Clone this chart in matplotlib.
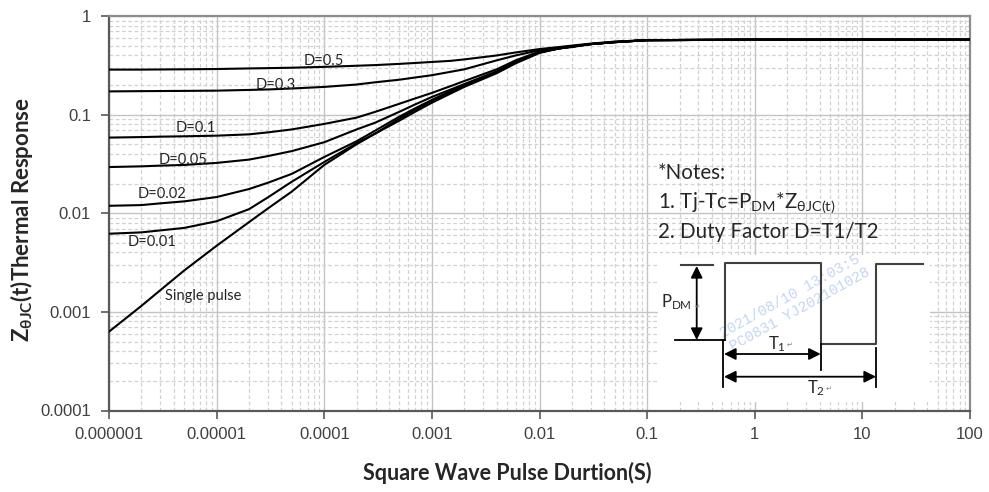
import matplotlib

matplotlib.use("Agg")
import matplotlib.pyplot as plt  # noqa: E402
from matplotlib.ticker import FixedLocator, LogLocator, NullFormatter  # noqa: E402
from matplotlib.patches import FancyArrowPatch  # noqa: E402

# ---- data (pulse width in s, Z normalised) ----
PULSE_S = [1e-6, 2e-6, 3e-6, 5e-6, 1e-5, 2e-5, 3e-5, 5e-5, 1e-4, 2e-4, 3e-4, 5e-4,
           7e-4, 1e-3, 1.5e-3, 2e-3, 4e-3, 6e-3, 1e-2, 1.5e-2, 2e-2, 3e-2, 5e-2,
           0.1, 1, 10, 100]

Z_D050 = [0.286, 0.286, 0.287, 0.288, 0.290, 0.294, 0.296, 0.299, 0.305, 0.313, 0.318, 0.327,
          0.334, 0.342, 0.351, 0.363, 0.398, 0.427, 0.462, 0.484, 0.501, 0.525, 0.550,
          0.569, 0.575, 0.575, 0.575]
Z_D030 = [0.172, 0.173, 0.1735, 0.174, 0.175, 0.178, 0.180, 0.184, 0.191, 0.202, 0.213, 0.226,
          0.238, 0.251, 0.272, 0.288, 0.355, 0.398, 0.450, 0.473, 0.495, 0.519, 0.547,
          0.569, 0.575, 0.575, 0.575]
Z_D010 = [0.0585, 0.0592, 0.0598, 0.0603, 0.0612, 0.0631, 0.0661, 0.0708, 0.0805, 0.0933, 0.107, 0.129,
          0.146, 0.166, 0.195, 0.219, 0.288, 0.355, 0.437, 0.468, 0.490, 0.519, 0.543,
          0.569, 0.575, 0.575, 0.575]
Z_D005 = [0.0294, 0.0299, 0.0304, 0.0309, 0.0324, 0.0350, 0.0380, 0.0427, 0.0525, 0.0708, 0.0832, 0.107,
          0.127, 0.151, 0.180, 0.204, 0.275, 0.343, 0.432, 0.468, 0.490, 0.519, 0.543,
          0.569, 0.575, 0.575, 0.575]
Z_D002 = [0.0119, 0.0121, 0.0126, 0.0132, 0.0146, 0.0176, 0.0204, 0.0251, 0.0372, 0.0537, 0.0692, 0.0955,
          0.116, 0.141, 0.174, 0.200, 0.272, 0.339, 0.429, 0.468, 0.490, 0.519, 0.543,
          0.569, 0.575, 0.575, 0.575]
Z_D001 = [0.0062, 0.0064, 0.0067, 0.0071, 0.0083, 0.0110, 0.0145, 0.0209, 0.0331, 0.0513, 0.0646, 0.0912,
          0.112, 0.138, 0.170, 0.195, 0.269, 0.339, 0.427, 0.468, 0.490, 0.519, 0.543,
          0.569, 0.575, 0.575, 0.575]
Z_SINGLE = [0.00063, 0.00115, 0.00166, 0.00263, 0.00468, 0.00813, 0.0112, 0.0166, 0.0309, 0.0501, 0.0646, 0.0871,
            0.107, 0.132, 0.164, 0.191, 0.263, 0.331, 0.422, 0.468, 0.484, 0.519, 0.543,
            0.569, 0.575, 0.575, 0.575]

CURVE_NAMES = ["D=0.5", "D=0.3", "D=0.1", "D=0.05", "D=0.02", "D=0.01", "Single pulse"]

X_TICKS = [1e-6, 1e-5, 1e-4, 1e-3, 1e-2, 0.1, 1, 10, 100]
X_TICK_LABELS = ["0.000001", "0.00001", "0.0001", "0.001", "0.01", "0.1", "1", "10", "100"]
Y_TICKS = [1e-4, 1e-3, 1e-2, 0.1, 1]
Y_TICK_LABELS = ["0.0001", "0.001", "0.01", "0.1", "1"]

# where each curve name sits (left edge, vertical centre), data coords
LABEL_POS = [(6.5e-5, 0.347), (2.32e-5, 0.201), (4.2e-6, 0.0738), (2.92e-6, 0.035),
             (1.86e-6, 0.0158), (1.50e-6, 0.00515), (3.31e-6, 0.00144)]

SANS = ["Lato", "DejaVu Sans"]
TICK_FONT = ["Liberation Sans", "DejaVu Sans"]
MONO = ["Liberation Mono", "DejaVu Sans Mono"]
INK = "#262626"
TICK_INK = "#404040"

plt.rcParams["mathtext.fontset"] = "custom"
plt.rcParams["mathtext.rm"] = "Lato"
plt.rcParams["mathtext.it"] = "Lato:italic"
plt.rcParams["mathtext.bf"] = "Lato:bold"

fig = plt.figure(figsize=(9.89, 4.92), dpi=100)
fig.patch.set_facecolor("white")
ax = fig.add_axes([109 / 989, 1 - 410.5 / 492, 861 / 989, 394.5 / 492])

series = [Z_D050, Z_D030, Z_D010, Z_D005, Z_D002, Z_D001, Z_SINGLE]
for z in series:
    ax.plot(PULSE_S, z, color="black", linewidth=1.5, solid_joinstyle="round", zorder=3)

ax.set_xscale("log")
ax.set_yscale("log")
ax.set_xlim(1e-6, 100)
ax.set_ylim(1e-4, 1)

ax.xaxis.set_major_locator(FixedLocator(X_TICKS))
ax.set_xticklabels(X_TICK_LABELS)
ax.yaxis.set_major_locator(FixedLocator(Y_TICKS))
ax.set_yticklabels(Y_TICK_LABELS)
ax.xaxis.set_minor_locator(LogLocator(base=10, subs=range(2, 10), numticks=20))
ax.yaxis.set_minor_locator(LogLocator(base=10, subs=range(2, 10), numticks=20))
ax.xaxis.set_minor_formatter(NullFormatter())
ax.yaxis.set_minor_formatter(NullFormatter())

ax.grid(which="major", color="#c4c4c4", linewidth=1.0, linestyle="-", zorder=0)
ax.grid(which="minor", color="#d2d2d2", linewidth=0.9, linestyle=(0, (3, 2)), zorder=0)
ax.set_axisbelow(True)

ax.tick_params(which="major", direction="out", length=6, width=1.2, color="#595959",
               labelsize=12, labelcolor=TICK_INK)
ax.tick_params(axis="y", which="major", pad=7)
ax.tick_params(axis="x", which="major", pad=6)
ax.tick_params(which="minor", length=0)
for lab in ax.get_xticklabels() + ax.get_yticklabels():
    lab.set_family(TICK_FONT)

for side in ("left", "bottom"):
    ax.spines[side].set_color("#595959")
    ax.spines[side].set_linewidth(1.6)
for side in ("top", "right"):
    ax.spines[side].set_color("#8c8c8c")
    ax.spines[side].set_linewidth(1.6)

for name, (lx, ly) in zip(CURVE_NAMES, LABEL_POS):
    ax.text(lx, ly, name, fontsize=10.5, family=SANS, color=INK, ha="left", va="center",
            zorder=4)

# ---- axis titles ----
fig.text(507 / 989, 1 - 473 / 492, "Square Wave Pulse Durtion(S)", fontsize=15.5,
         fontweight="bold", family=SANS, color=INK, ha="center", va="center")
fig.text(22 / 989, 1 - 220 / 492, r"Z$_{\mathbf{\theta JC}}$(t)Thermal Response",
         fontsize=16, fontweight="bold", family=SANS, color=INK, rotation=90,
         ha="center", va="center")

# ---- notes ----
fig.text(658 / 989, 1 - 173 / 492, "*Notes:", fontsize=14.8, family=SANS, color=INK,
         va="center")
fig.text(658 / 989, 1 - 203 / 492, r"1. Tj-Tc=P$_{\mathrm{DM}}$*Z$_{\mathrm{\theta JC(t)}}$",
         fontsize=14.8, family=SANS, color=INK, va="center")
fig.text(658 / 989, 1 - 232 / 492, "2. Duty Factor D=T1/T2", fontsize=14.8, family=SANS,
         color=INK, va="center")

# ---- pulse diagram, drawn in screen-pixel coordinates ----
ins = fig.add_axes([658 / 989, 1 - 402 / 492, 272 / 989, 147 / 492])
ins.set_xlim(658, 930)
ins.set_ylim(402, 255)
ins.set_facecolor("white")
ins.set_xticks([])
ins.set_yticks([])
for s in ins.spines.values():
    s.set_visible(False)

wave = "#404040"
ins.plot([725, 725, 820.7, 820.7, 875.7, 875.7, 922.7],
         [340, 263, 263, 344, 344, 264, 264], color=wave, lw=1.5)
ins.plot([681, 713], [265, 265], color=wave, lw=1.5)
ins.plot([675, 725], [340, 340], color="black", lw=1.3)
ins.plot([723, 723], [340, 387], color="black", lw=1.3)
ins.plot([820.7, 820.7], [344, 370], color="black", lw=1.3)
ins.plot([876, 876], [348, 387], color="black", lw=1.3)

for (x0, y0), (x1, y1) in [((696.7, 266), (696.7, 340)),
                           ((724, 354), (820.7, 354)),
                           ((724, 376.7), (876, 376.7))]:
    ins.add_patch(FancyArrowPatch((x0, y0), (x1, y1),
                                  arrowstyle="<|-|>,head_length=7,head_width=3.5",
                                  color="black", lw=1.3, shrinkA=0, shrinkB=0))

ins.text(661, 302, r"P$_{\mathrm{DM}}$", fontsize=12, family=SANS, color=INK,
         ha="left", va="center")
ins.text(694.5, 307, "↵", fontsize=4.5, color="#808080", ha="left", va="center")
ins.text(768, 344, r"T$_{1}$", fontsize=12, family=SANS, color=INK, ha="left", va="center")
ins.text(787, 345, "↵", fontsize=5, color="#808080", ha="left", va="center")
ins.text(807, 388, r"T$_{2}$", fontsize=12, family=SANS, color=INK, ha="left", va="center")
ins.text(826, 389, "↵", fontsize=5, color="#808080", ha="left", va="center")

# faint document watermark
ins.text(790, 296, "2021/08/10 13:03:5", fontsize=10.5, family=MONO,
         color="#c4d5f2", rotation=29, ha="center", va="center", zorder=0.5)
ins.text(800, 309, "PC0831 YJ202101028", fontsize=10.5, family=MONO,
         color="#c4d5f2", rotation=29, ha="center", va="center", zorder=0.5)

fig.savefig("out.png", dpi=100, facecolor="white")
